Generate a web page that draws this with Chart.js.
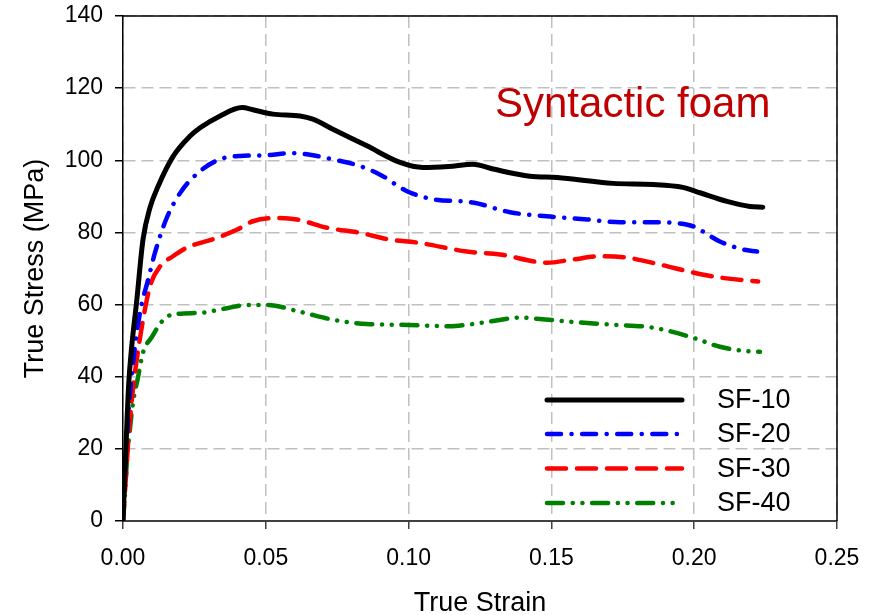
<!DOCTYPE html>
<html>
<head>
<meta charset="utf-8">
<script src="https://cdn.jsdelivr.net/npm/chart.js@4.4.1/dist/chart.umd.min.js"></script>
<style>
    html, body { margin: 0; padding: 0; background: #fff; }
    #wrap { width: 872px; height: 615px; }
</style>
</head>
<body>
<div id="wrap"><canvas id="stressChart" width="872" height="615"></canvas></div>
<script>
// values
const seriesNames = ['SF-10', 'SF-20', 'SF-30', 'SF-40'];

const sf10Strain = [0, 0.001, 0.002, 0.003, 0.0048, 0.007, 0.0095, 0.0123, 0.0175, 0.0235, 0.027, 0.034, 0.0417, 0.0455, 0.0525, 0.062, 0.0665, 0.0735, 0.0854, 0.097, 0.105, 0.114, 0.1225, 0.13, 0.1425, 0.152, 0.1716, 0.1856, 0.196, 0.202, 0.2115, 0.2195, 0.224];
const sf10Stress = [0, 20, 38, 48, 61, 78, 87, 92.8, 101, 106.7, 109, 112.3, 114.6, 114, 112.8, 112.3, 111.4, 108.6, 104, 99.4, 98, 98.3, 98.9, 97.5, 95.6, 95.2, 93.6, 93.3, 92.5, 91, 88.6, 87.2, 87];

const sf20Strain = [0, 0.001, 0.002, 0.003, 0.0048, 0.0065, 0.0085, 0.0112, 0.0153, 0.0205, 0.027, 0.034, 0.041, 0.0504, 0.0585, 0.0665, 0.0749, 0.083, 0.091, 0.097, 0.1, 0.1086, 0.1225, 0.1355, 0.1495, 0.1625, 0.174, 0.1856, 0.195, 0.1996, 0.209, 0.217, 0.222];
const sf20Stress = [5, 18, 31, 40, 52, 60, 66, 74.4, 84, 91.5, 97, 100.3, 101.2, 101.4, 102, 101.4, 100, 98.4, 95.6, 92.5, 91.2, 89.2, 88.3, 85.6, 84.4, 83.6, 82.8, 82.8, 82.5, 81.7, 77.5, 75.3, 74.7];

const sf30Strain = [0, 0.001, 0.002, 0.003, 0.0045, 0.006, 0.008, 0.0098, 0.013, 0.0175, 0.0224, 0.0329, 0.04, 0.0455, 0.0539, 0.0609, 0.0714, 0.083, 0.0935, 0.1029, 0.1204, 0.132, 0.1484, 0.1576, 0.167, 0.1765, 0.188, 0.1996, 0.209, 0.2224];
const sf30Stress = [0, 12, 24, 33, 43, 51, 60, 66, 70.6, 73.4, 75.8, 78.5, 80.8, 83.1, 84, 83.6, 81.3, 79.9, 78, 77.2, 74.7, 73.9, 71.6, 72.5, 73.4, 73, 71.1, 68.9, 67.5, 66.4];

const sf40Strain = [0, 0.0007, 0.0014, 0.0025, 0.0035, 0.0053, 0.007, 0.0101, 0.0136, 0.0171, 0.027, 0.0364, 0.0434, 0.0504, 0.062, 0.0735, 0.0854, 0.097, 0.1145, 0.1204, 0.1285, 0.139, 0.146, 0.1555, 0.1716, 0.1856, 0.1996, 0.209, 0.2195, 0.223];
const sf40Stress = [0, 7.8, 17, 26, 32.8, 40, 46.7, 51, 55.3, 57.2, 57.7, 59, 59.9, 59.9, 58, 55.8, 54.6, 54.4, 54, 54.4, 55.3, 56.4, 56, 55.3, 54.4, 53.6, 50.8, 48.3, 47, 46.9];

const xTicks = [0, 0.05, 0.10, 0.15, 0.20, 0.25];
const yTicks = [0, 20, 40, 60, 80, 100, 120, 140];

const FONT = 'Liberation Sans, Arial, sans-serif';

function toPoints(xs, ys) {
    return xs.map((x, i) => ({ x: x, y: ys[i] }));
}

const styles = [
    { color: '#000000', dash: [], width: 5 },
    { color: '#0000ff', dash: [14, 10.5, 0.1, 10.5], width: 4.5 },
    { color: '#ff0000', dash: [19, 11], width: 4.5 },
    { color: '#008000', dash: [16, 9.7, 0.1, 9.6, 0.1, 9.6], width: 4.5 }
];

const allData = [
    toPoints(sf10Strain, sf10Stress),
    toPoints(sf20Strain, sf20Stress),
    toPoints(sf30Strain, sf30Stress),
    toPoints(sf40Strain, sf40Stress)
];

const datasets = seriesNames.map((name, i) => ({
    label: name,
    data: allData[i],
    borderColor: styles[i].color,
    backgroundColor: styles[i].color,
    borderDash: styles[i].dash,
    borderWidth: styles[i].width,
    borderCapStyle: 'round',
    borderJoinStyle: 'round',
    pointRadius: 0,
    cubicInterpolationMode: 'monotone',
    fill: false
}));

// frame, titles, in-plot legend
const decorations = {
    id: 'decorations',
    afterDraw(chart) {
        const ctx = chart.ctx;
        const area = chart.chartArea;
        ctx.save();

        // top and right frame lines
        ctx.strokeStyle = '#000';
        ctx.lineWidth = 1.5;
        ctx.beginPath();
        ctx.moveTo(area.left, area.top);
        ctx.lineTo(area.right, area.top);
        ctx.lineTo(area.right, area.bottom);
        ctx.stroke();

        // axis titles
        ctx.fillStyle = '#000';
        ctx.font = '27px ' + FONT;
        ctx.textAlign = 'center';
        ctx.textBaseline = 'alphabetic';
        ctx.fillText('True Strain', (area.left + area.right) / 2, 611);

        ctx.save();
        ctx.translate(43, (area.top + area.bottom) / 2);
        ctx.rotate(-Math.PI / 2);
        ctx.fillText('True Stress (MPa)', 0, 0);
        ctx.restore();

        // annotation
        ctx.fillStyle = '#c00000';
        ctx.font = '42px ' + FONT;
        ctx.textAlign = 'left';
        ctx.fillText('Syntactic foam', 495, 117);

        // legend
        const rowY = [400, 434, 468.5, 503];
        chart.data.datasets.forEach((ds, i) => {
            ctx.strokeStyle = ds.borderColor;
            ctx.lineWidth = ds.borderWidth;
            ctx.lineCap = 'round';
            ctx.setLineDash(ds.borderDash);
            ctx.beginPath();
            ctx.moveTo(547, rowY[i]);
            ctx.lineTo(682, rowY[i]);
            ctx.stroke();
            ctx.setLineDash([]);
            ctx.fillStyle = '#000';
            ctx.font = '27px ' + FONT;
            ctx.textBaseline = 'middle';
            ctx.fillText(ds.label, 717, rowY[i] + 1);
        });

        ctx.restore();
    }
};

new Chart(document.getElementById('stressChart'), {
    type: 'line',
    data: { datasets: datasets },
    options: {
        responsive: false,
        animation: false,
        layout: { padding: { top: 16, right: 35, left: 0, bottom: 0 } },
        plugins: {
            legend: { display: false },
            tooltip: { enabled: false }
        },
        scales: {
            x: {
                type: 'linear',
                min: 0,
                max: 0.25,
                afterFit: (scale) => {
                    scale.height = 94;
                    scale.paddingLeft = 0;
                    scale.paddingRight = 0;
                },
                afterBuildTicks: (scale) => { scale.ticks = xTicks.map(v => ({ value: v })); },
                ticks: {
                    font: { family: FONT, size: 23 },
                    color: '#000',
                    padding: 16,
                    maxRotation: 0,
                    callback: (v) => v.toFixed(2)
                },
                grid: {
                    color: '#c0c0c0',
                    lineWidth: 1.5,
                    tickLength: 8,
                    tickColor: '#404040',
                    tickWidth: 1.5
                },
                border: { color: '#404040', width: 2, dash: [12, 6] }
            },
            y: {
                min: 0,
                max: 140,
                afterFit: (scale) => {
                    scale.width = 123;
                    scale.paddingTop = 0;
                    scale.paddingBottom = 0;
                },
                afterBuildTicks: (scale) => { scale.ticks = yTicks.map(v => ({ value: v })); },
                ticks: {
                    font: { family: FONT, size: 23 },
                    color: '#000',
                    padding: 12
                },
                grid: {
                    color: '#c0c0c0',
                    lineWidth: 1.5,
                    tickLength: 8,
                    tickColor: '#000',
                    tickWidth: 1.5
                },
                border: { color: '#000', width: 1.5, dash: [12, 6] }
            }
        }
    },
    plugins: [decorations]
});
</script>
</body>
</html>
